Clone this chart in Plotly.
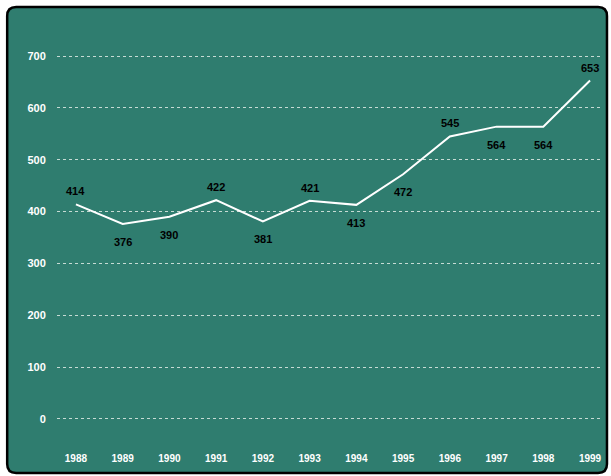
import plotly.graph_objects as go

years = [1988, 1989, 1990, 1991, 1992, 1993, 1994, 1995, 1996, 1997, 1998, 1999]
values = [414, 376, 390, 422, 381, 421, 413, 472, 545, 564, 564, 653]
y_ticks = [0, 100, 200, 300, 400, 500, 600, 700]

W, H = 611, 476
ML, MR, MT, MB = 57, 9, 51, 52
TEAL = "#2f7d6f"

# label above (+) or below (-) each point
label_side = [1, -1, -1, 1, -1, 1, -1, -1, 1, -1, -1, 1]


def px(x):
    return (x - ML) / (W - ML - MR)


def py(y):
    return (H - MB - y) / (H - MT - MB)


def rounded_rect(x0, y0, x1, y1, r):
    # pixel box -> paper path with rounded corners
    pts = [
        f"M {px(x0 + r)},{py(y0)}",
        f"L {px(x1 - r)},{py(y0)}",
        f"Q {px(x1)},{py(y0)} {px(x1)},{py(y0 + r)}",
        f"L {px(x1)},{py(y1 - r)}",
        f"Q {px(x1)},{py(y1)} {px(x1 - r)},{py(y1)}",
        f"L {px(x0 + r)},{py(y1)}",
        f"Q {px(x0)},{py(y1)} {px(x0)},{py(y1 - r)}",
        f"L {px(x0)},{py(y0 + r)}",
        f"Q {px(x0)},{py(y0)} {px(x0 + r)},{py(y0)}",
        "Z",
    ]
    return " ".join(pts)


fig = go.Figure(go.Scatter(
    x=years,
    y=values,
    mode="lines",
    line=dict(color="white", width=2),
    hoverinfo="skip",
))

for yr, v, side in zip(years, values, label_side):
    fig.add_annotation(
        x=yr, y=v, text=str(v), showarrow=False,
        yshift=13 if side > 0 else -18,
        font=dict(family="Liberation Sans, Arial", size=11, color="black", weight="bold"),
    )

fig.update_layout(
    width=W,
    height=H,
    margin=dict(l=ML, r=MR, t=MT, b=MB),
    paper_bgcolor="white",
    plot_bgcolor="rgba(0,0,0,0)",
    showlegend=False,
    shapes=[dict(
        type="path",
        xref="paper", yref="paper",
        path=rounded_rect(7, 7, 609, 473, 9),
        fillcolor=TEAL,
        line=dict(color="black", width=2.5),
        layer="below",
    )],
    xaxis=dict(
        range=[1987.595, 1999.213],
        tickvals=years,
        ticktext=[str(y) for y in years],
        showgrid=False,
        zeroline=False,
        showline=False,
        ticks="outside",
        ticklen=25,
        tickcolor="rgba(0,0,0,0)",
        tickfont=dict(family="Liberation Sans, Arial", size=10, color="white", weight="bold"),
    ),
    yaxis=dict(
        range=[-10, 710],
        tickvals=y_ticks,
        showgrid=True,
        gridcolor="rgba(225,235,230,0.85)",
        gridwidth=1,
        griddash="dot",
        zeroline=False,
        showline=False,
        ticks="outside",
        ticklen=8,
        tickcolor="rgba(0,0,0,0)",
        tickfont=dict(family="Liberation Sans, Arial", size=11, color="white", weight="bold"),
    ),
)

fig.write_html("out.html", config={"displayModeBar": False},
               post_script="document.body.style.margin='0';")
